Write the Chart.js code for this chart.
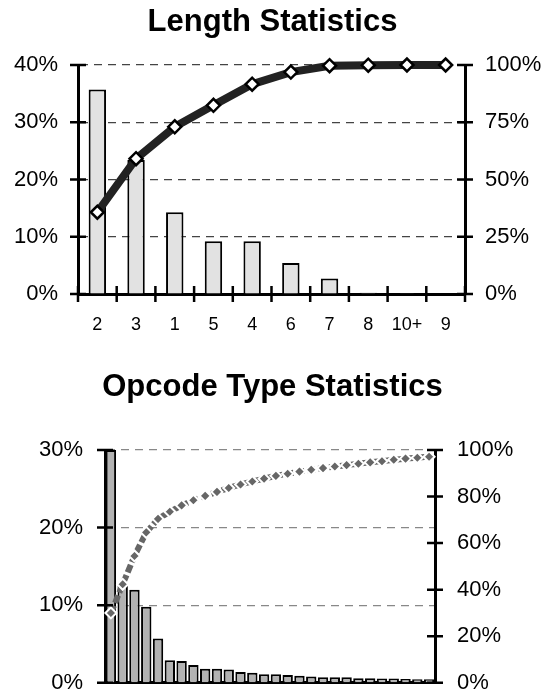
<!DOCTYPE html>
<html>
<head>
<meta charset="utf-8">
<title>Length / Opcode Type Statistics</title>
<script src="https://cdn.jsdelivr.net/npm/chart.js@4.4.1/dist/chart.umd.min.js"></script>
<style>
  html, body { margin: 0; padding: 0; background: #fff; }
  canvas { display: block; }
</style>
</head>
<body>
<canvas id="lengthChart" width="545" height="345"></canvas>
<canvas id="opcodeChart" width="545" height="351"></canvas>
<script>
// data (percent)
const lengthLabels = ["2", "3", "1", "5", "4", "6", "7", "8", "10+", "9"];
const lengthShare = [35.7, 23.4, 14.3, 9.2, 9.2, 5.4, 2.7, 0.2, 0.15, 0];
const lengthCumulative = [35.7, 59.1, 73.0, 82.4, 91.6, 96.9, 99.7, 99.9, 100, 100];

const opcodeLabels = [
  "T1", "T2", "T3", "T4", "T5", "T6", "T7", "T8", "T9", "T10",
  "T11", "T12", "T13", "T14", "T15", "T16", "T17", "T18", "T19", "T20",
  "T21", "T22", "T23", "T24", "T25", "T26", "T27", "T28"
];
const opcodeShare = [
  30, 12.5, 12.0, 9.8, 5.7, 2.9, 2.8, 2.3, 1.8, 1.8,
  1.7, 1.4, 1.3, 1.1, 1.1, 1.0, 0.9, 0.8, 0.7, 0.7,
  0.7, 0.6, 0.6, 0.55, 0.55, 0.5, 0.45, 0.45
];
const opcodeCumulative = [
  30, 42.3, 54.5, 64.6, 70.4, 73.5, 76.2, 78.4, 80.3, 82.0,
  83.7, 85.2, 86.5, 87.7, 88.9, 89.8, 90.7, 91.5, 92.2, 92.9,
  93.5, 94.1, 94.7, 95.2, 95.8, 96.3, 96.7, 97.1
];

Chart.defaults.font.family = "'Liberation Sans', Arial, sans-serif";
Chart.defaults.color = "#000";

// tick marks that cross the axis line (Excel style)
const crossTicks = {
  id: "crossTicks",
  afterDraw(chart, args, opts) {
    const ctx = chart.ctx;
    const len = opts.length;
    ctx.save();
    ctx.strokeStyle = "#000";
    ctx.lineWidth = 2.5;
    ctx.beginPath();
    opts.yAxes.forEach((id) => {
      const scale = chart.scales[id];
      const x = scale.position === "left" ? scale.right : scale.left;
      scale.ticks.forEach((t) => {
        const y = scale.getPixelForValue(t.value);
        ctx.moveTo(x - len, y);
        ctx.lineTo(x + len, y);
      });
    });
    if (opts.xAxis) {
      const scale = chart.scales[opts.xAxis];
      for (let i = 0; i <= scale.ticks.length; i++) {
        const x = scale.getPixelForValue(i - 0.5);
        ctx.moveTo(x, scale.top - len);
        ctx.lineTo(x, scale.top + len);
      }
    }
    ctx.stroke();
    ctx.restore();
  },
};

function pct(v) {
  return v + "%";
}

// label gap comes from an invisible tick mark, so ticks.padding
// does not push the chart area up
function leftAxis(max, step, width, gridColor, gap) {
  return {
    position: "left",
    min: 0,
    max: max,
    ticks: { stepSize: step, callback: pct, font: { size: 22 }, padding: 0 },
    grid: {
      drawTicks: true,
      tickLength: gap,
      tickColor: "rgba(0,0,0,0)",
      lineWidth: 1.2,
      color: (c) => (c.tick && c.tick.value === 0 ? "rgba(0,0,0,0)" : gridColor),
    },
    border: { display: true, color: "#000", width: 3, dash: [8, 6] },
    afterFit: (s) => { s.width = width; },
  };
}

function rightAxis(step, width, gap) {
  return {
    position: "right",
    min: 0,
    max: 100,
    ticks: { stepSize: step, callback: pct, font: { size: 22 }, padding: 0 },
    grid: {
      drawOnChartArea: false,
      drawTicks: true,
      tickLength: gap,
      tickColor: "rgba(0,0,0,0)",
    },
    border: { display: true, color: "#000", width: 3 },
    afterFit: (s) => { s.width = width; },
  };
}

function drawLength() {
  const ctx = document.getElementById("lengthChart").getContext("2d");
  new Chart(ctx, {
    type: "bar",
    data: {
      labels: lengthLabels,
      datasets: [
        {
          type: "line",
          data: lengthCumulative,
          yAxisID: "y1",
          order: 0,
          borderColor: "#222",
          borderWidth: 8,
          tension: 0,
          pointStyle: "rectRot",
          pointRadius: 6.5,
          pointBackgroundColor: "#fff",
          pointBorderColor: "#000",
          pointBorderWidth: 2.5,
          clip: false,
        },
        {
          data: lengthShare,
          yAxisID: "y",
          order: 1,
          backgroundColor: "#e2e2e2",
          borderColor: "#000",
          borderWidth: 2,
          barPercentage: 0.45,
          categoryPercentage: 1,
          clip: false,
        },
      ],
    },
    options: {
      responsive: false,
      devicePixelRatio: 1,
      animation: false,
      layout: { padding: 0 },
      scales: {
        x: {
          offset: true,
          grid: { display: false, drawTicks: false },
          border: { display: true, color: "#000", width: 3 },
          ticks: { font: { size: 18 }, padding: 20 },
          afterFit: (s) => { s.height = 51; },
        },
        y: leftAxis(40, 10, 78, "#444", 20),
        y1: rightAxis(25, 80, 20),
      },
      plugins: {
        legend: { display: false },
        tooltip: { enabled: false },
        title: {
          display: true,
          text: "Length Statistics",
          font: { size: 31, weight: "bold", lineHeight: 1.2 },
          padding: { top: 3.4, bottom: 24.4 },
        },
        crossTicks: { length: 8, yAxes: ["y", "y1"], xAxis: "x" },
      },
    },
    plugins: [crossTicks],
  });
}

function drawOpcode() {
  const ctx = document.getElementById("opcodeChart").getContext("2d");
  new Chart(ctx, {
    type: "bar",
    data: {
      labels: opcodeLabels,
      datasets: [
        {
          type: "line",
          data: opcodeCumulative,
          yAxisID: "y1",
          order: 0,
          borderColor: "#666",
          borderWidth: 6,
          borderDash: [8, 3],
          tension: 0,
          pointStyle: "rectRot",
          pointRadius: 5.5,
          pointBackgroundColor: "#666",
          pointBorderColor: "#fff",
          pointBorderWidth: 2,
          clip: false,
        },
        {
          data: opcodeShare,
          yAxisID: "y",
          order: 1,
          backgroundColor: "#b2b2b2",
          borderColor: "#000",
          borderWidth: 2,
          barPercentage: 0.88,
          categoryPercentage: 1,
          clip: false,
        },
      ],
    },
    options: {
      responsive: false,
      devicePixelRatio: 1,
      animation: false,
      layout: { padding: 0 },
      scales: {
        x: {
          offset: true,
          grid: { display: false, drawTicks: false },
          border: { display: true, color: "#000", width: 3 },
          ticks: { display: false },
          afterFit: (s) => { s.height = 11; },
        },
        y: leftAxis(30, 10, 105, "#888", 22),
        y1: rightAxis(20, 110, 22),
      },
      plugins: {
        legend: { display: false },
        tooltip: { enabled: false },
        title: {
          display: true,
          text: "Opcode Type Statistics",
          font: { size: 31, weight: "bold", lineHeight: 1.2 },
          padding: { top: 23.4, bottom: 44.4 },
        },
        crossTicks: { length: 8, yAxes: ["y", "y1"] },
      },
    },
    plugins: [crossTicks],
  });
}

drawLength();
drawOpcode();
</script>
</body>
</html>
